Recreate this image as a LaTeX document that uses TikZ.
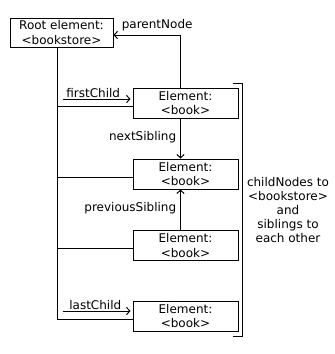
\documentclass[tikz,border=0pt]{standalone}
\usepackage{fontspec}
\setmainfont{DejaVu Sans}
\usetikzlibrary{arrows.meta,calc}
\begin{document}
\begin{tikzpicture}[x=0.75pt,y=-0.75pt,line width=0.75pt,
  font=\fontsize{9pt}{11pt}\selectfont,
  box/.style={draw,align=center,inner sep=0pt,minimum height=22.5pt},
  rootbox/.style={box,minimum width=77.25pt,minimum height=21.75pt},
  bookbox/.style={box,minimum width=78.75pt},
  arr/.style={-{Straight Barb[length=2.5pt,width=5.5pt]}},
  lbl/.style={inner sep=1pt}]
\useasboundingbox (0,0) rectangle (335,354);
\node[rootbox] (root) at (61.5,32.5) {Root element:\\<bookstore>};
\node[bookbox] (b1) at (185.5,103) {Element:\\<book>};
\node[bookbox] (b2) at (185.5,174) {Element:\\<book>};
\node[bookbox] (b3) at (185.5,245.5) {Element:\\<book>};
\node[bookbox] (b4) at (185.5,316) {Element:\\<book>};
\coordinate (spine) at ($(root.south)+(-4.5,0)$);
% spine and child links
\draw (spine) |- ($(b4.west)+(0,3)$);
\draw ($(spine |- b1.west)+(0,3)$) -- ($(b1.west)+(0,3)$);
\draw ($(spine |- b2.west)+(0,3)$) -- ($(b2.west)+(0,3)$);
\draw ($(spine |- b3.west)+(0,2.5)$) -- ($(b3.west)+(0,2.5)$);
% firstChild
\coordinate (fcs) at ($(b1.west)+(-70,-4)$);
\coordinate (fce) at ($(b1.west)+(-2,-4)$);
\draw[arr] (fcs) -- (fce);
\node[lbl,anchor=south west] (fcl) at ($(fcs)+(2,0)$) {firstChild};
% lastChild
\coordinate (lcs) at ($(b4.west)+(-70,-5)$);
\coordinate (lce) at ($(b4.west)+(-2,-5)$);
\draw[arr] (lcs) -- (lce);
\node[lbl,anchor=south west] (lcl) at ($(lcs)+(5,0)$) {lastChild};
% parentNode
\draw[arr] ($(b1.north)+(-5,0)$) |- ($(root.east)+(0,2.5)$);
\node[lbl,anchor=south west] (pnl) at (120,33) {parentNode};
% nextSibling
\draw[arr] ($(b1.south)+(-5,0)$) -- ($(b2.north)+(-5,0)$);
\node[lbl,anchor=east] (nsl) at (178,137) {nextSibling};
% previousSibling
\draw[arr] ($(b3.north)+(-5,0)$) -- ($(b2.south)+(-5,0)$);
\node[lbl,anchor=east] (psl) at (178,208) {previousSibling};
% bracket
\draw (233,83) -- (242,83) -- (242,336) -- (233,336);
\node[align=center,inner sep=0pt,font=\fontsize{9pt}{10.5pt}\selectfont] (note) at (288,210) {childNodes to\\<bookstore>\\and\\siblings to\\each other};
\end{tikzpicture}
\end{document}
